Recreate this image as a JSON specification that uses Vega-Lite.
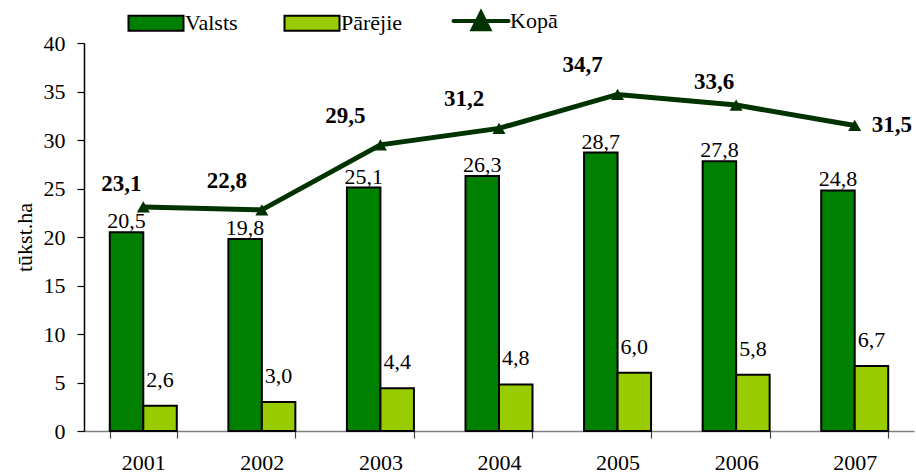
{
  "$schema": "https://vega.github.io/schema/vega-lite/v6.json",
  "width": 830,
  "height": 388,
  "autosize": {"type": "none"},
  "padding": {"left": 84, "top": 43, "right": 2, "bottom": 45},
  "background": "white",
  "config": {
    "font": "Liberation Serif",
    "view": {"stroke": null},
    "locale": {"number": {"decimal": ",", "thousands": " ", "grouping": [3], "currency": ["", " €"]}},
    "axis": {"grid": false, "labelFont": "Liberation Serif", "titleFont": "Liberation Serif"},
    "text": {"font": "Liberation Serif"},
    "legend": {
      "direction": "horizontal",
      "padding": 0,
      "symbolType": "M-1,-0.27H1V0.27H-1Z",
      "symbolSize": 3025,
      "symbolStrokeColor": "black",
      "symbolStrokeWidth": 2,
      "symbolOpacity": 1,
      "labelFont": "Liberation Serif",
      "labelFontSize": 22,
      "labelColor": "black",
      "labelOffset": 18,
      "columnPadding": 42,
      "labelLimit": 300
    }
  },
  "datasets": {
    "bars": [
      {"year": "2001", "series": "Valsts", "value": 20.5},
      {"year": "2001", "series": "Pārējie", "value": 2.6},
      {"year": "2002", "series": "Valsts", "value": 19.8},
      {"year": "2002", "series": "Pārējie", "value": 3.0},
      {"year": "2003", "series": "Valsts", "value": 25.1},
      {"year": "2003", "series": "Pārējie", "value": 4.4},
      {"year": "2004", "series": "Valsts", "value": 26.3},
      {"year": "2004", "series": "Pārējie", "value": 4.8},
      {"year": "2005", "series": "Valsts", "value": 28.7},
      {"year": "2005", "series": "Pārējie", "value": 6.0},
      {"year": "2006", "series": "Valsts", "value": 27.8},
      {"year": "2006", "series": "Pārējie", "value": 5.8},
      {"year": "2007", "series": "Valsts", "value": 24.8},
      {"year": "2007", "series": "Pārējie", "value": 6.7}
    ],
    "kopa": [
      {"year": "2001", "value": 23.1},
      {"year": "2002", "value": 22.8},
      {"year": "2003", "value": 29.5},
      {"year": "2004", "value": 31.2},
      {"year": "2005", "value": 34.7},
      {"year": "2006", "value": 33.6},
      {"year": "2007", "value": 31.5}
    ]
  },
  "layer": [
    {
      "data": {"name": "bars"},
      "mark": {"type": "bar", "stroke": "black", "strokeWidth": 2},
      "encoding": {
        "x": {
          "field": "year", "type": "nominal",
          "scale": {"paddingInner": 0.435, "paddingOuter": 0.2175},
          "axis": {
            "orient": "bottom", "tickBand": "extent", "title": null, "labelAngle": 0,
            "domainColor": "#808080", "domainWidth": 1.5,
            "tickColor": "#404040", "tickWidth": 1.2, "tickSize": 7,
            "labelFontSize": 22, "labelColor": "black", "labelPadding": 14
          }
        },
        "xOffset": {"field": "series", "sort": ["Valsts", "Pārējie"], "scale": {"paddingInner": 0, "paddingOuter": 0}},
        "y": {
          "field": "value", "type": "quantitative",
          "scale": {"domain": [0, 40], "nice": false},
          "axis": {
            "orient": "left", "values": [0, 5, 10, 15, 20, 25, 30, 35, 40],
            "domainColor": "black", "domainWidth": 1.5,
            "tickColor": "black", "tickWidth": 1.2, "tickSize": 7,
            "labelFontSize": 22, "labelColor": "black", "labelPadding": 12,
            "title": "tūkst.ha", "titleFontSize": 22, "titleFontWeight": "normal",
            "titleColor": "black", "titlePadding": 7
          }
        },
        "color": {
          "field": "series", "type": "nominal",
          "scale": {"domain": ["Valsts", "Pārējie", "Kopā"], "range": ["#008000", "#99CC00", "#003300"]},
          "legend": {
            "title": null,
            "orient": "none",
            "legendX": 61,
            "legendY": -33.5,
            "encode": {
              "symbols": {
                "update": {
                  "shape": {"signal": "datum.value === 'Kopā' ? 'M-1,0H1M0,-0.3L0.3,0.3H-0.3Z' : 'M-1,-0.27H1V0.27H-1Z'"},
                  "stroke": {"signal": "datum.value === 'Kopā' ? '#003300' : 'black'"},
                  "strokeWidth": {"signal": "datum.value === 'Kopā' ? 4 : 2"},
                  "strokeCap": {"value": "round"}
                }
              }
            }
          }
        }
      }
    },
    {
      "data": {"name": "bars"},
      "transform": [{"filter": "datum.series === 'Valsts'"}],
      "mark": {"type": "text", "baseline": "alphabetic", "dy": -4, "fontSize": 22, "color": "black"},
      "encoding": {
        "x": {"field": "year", "type": "nominal"},
        "xOffset": {"field": "series", "sort": ["Valsts", "Pārējie"]},
        "y": {"field": "value", "type": "quantitative"},
        "text": {"field": "value", "type": "quantitative", "format": ".1f"}
      }
    },
    {
      "data": {"name": "bars"},
      "transform": [{"filter": "datum.series === 'Pārējie'"}],
      "mark": {"type": "text", "baseline": "alphabetic", "dy": -19, "fontSize": 22, "color": "black"},
      "encoding": {
        "x": {"field": "year", "type": "nominal"},
        "xOffset": {"field": "series", "sort": ["Valsts", "Pārējie"]},
        "y": {"field": "value", "type": "quantitative"},
        "text": {"field": "value", "type": "quantitative", "format": ".1f"}
      }
    },
    {
      "data": {"name": "kopa"},
      "mark": {"type": "line", "color": "#003300", "strokeWidth": 5},
      "encoding": {
        "x": {"field": "year", "type": "nominal"},
        "y": {"field": "value", "type": "quantitative"}
      }
    },
    {
      "data": {"name": "kopa"},
      "mark": {"type": "point", "shape": "triangle-up", "filled": true, "size": 170, "color": "#003300", "opacity": 1},
      "encoding": {
        "x": {"field": "year", "type": "nominal"},
        "y": {"field": "value", "type": "quantitative"}
      }
    },
    {
      "data": {"name": "kopa"},
      "transform": [{"filter": "datum.year === '2001' || datum.year === '2006'"}],
      "mark": {"type": "text", "baseline": "alphabetic", "dx": -22, "dy": -16, "fontSize": 23, "fontWeight": "bold", "color": "black"},
      "encoding": {
        "x": {"field": "year", "type": "nominal"},
        "y": {"field": "value", "type": "quantitative"},
        "text": {"field": "value", "type": "quantitative", "format": ".1f"}
      }
    },
    {
      "data": {"name": "kopa"},
      "transform": [{"filter": "datum.year === '2002' || datum.year === '2003' || datum.year === '2004' || datum.year === '2005'"}],
      "mark": {"type": "text", "baseline": "alphabetic", "dx": -35, "dy": -22, "fontSize": 23, "fontWeight": "bold", "color": "black"},
      "encoding": {
        "x": {"field": "year", "type": "nominal"},
        "y": {"field": "value", "type": "quantitative"},
        "text": {"field": "value", "type": "quantitative", "format": ".1f"}
      }
    },
    {
      "data": {"name": "kopa"},
      "transform": [{"filter": "datum.year === '2007'"}],
      "mark": {"type": "text", "align": "left", "baseline": "middle", "dx": 17, "dy": 0, "fontSize": 23, "fontWeight": "bold", "color": "black"},
      "encoding": {
        "x": {"field": "year", "type": "nominal"},
        "y": {"field": "value", "type": "quantitative"},
        "text": {"field": "value", "type": "quantitative", "format": ".1f"}
      }
    }
  ]
}
